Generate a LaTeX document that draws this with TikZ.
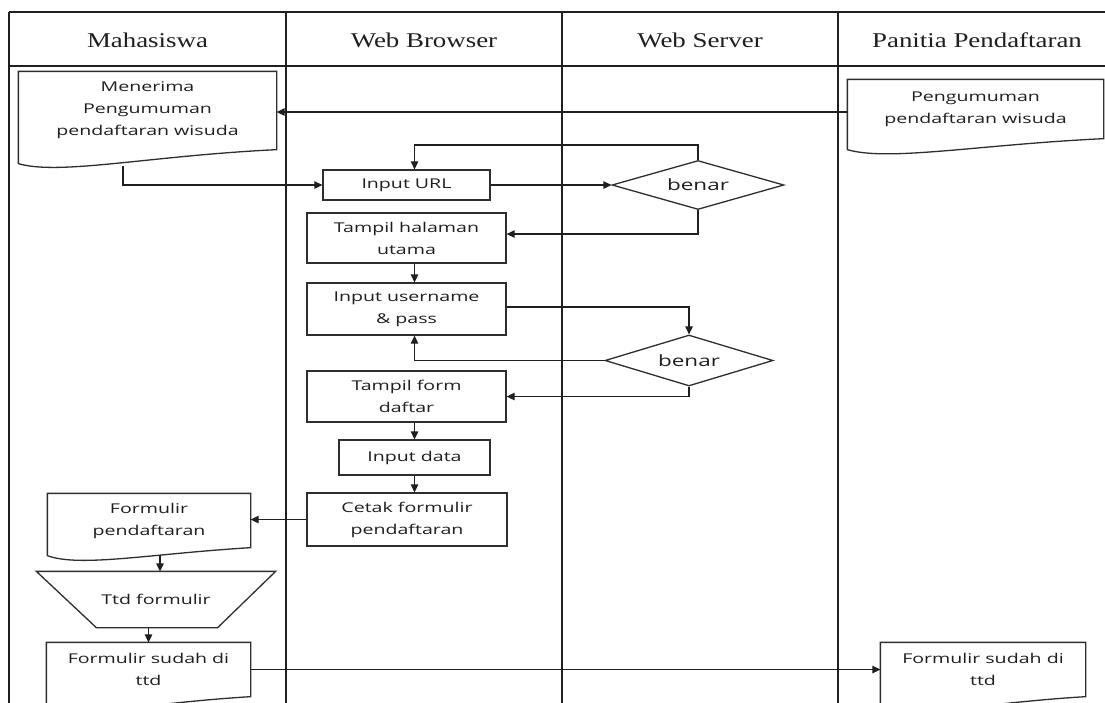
\documentclass[tikz,border=0pt]{standalone}
\usepackage{fontspec}
\usetikzlibrary{arrows.meta,shapes.geometric,calc}
\newfontfamily\hdrfont[FakeStretch=1.28]{Liberation Serif}
\newfontfamily\bodyfont[FakeStretch=1.45]{Open Sans}
\newcommand{\docshape}[3]{%
  \draw[outline] (#1.north west) -- (#1.north east) -- ([yshift=-#2pt]#1.south east)
   .. controls ($([yshift=-#2pt]#1.south east)!0.49!([yshift=-#2pt]#1.south west)+(0,6)$)
   and ($([yshift=-#3pt]#1.south west)!0.16!([yshift=-#3pt]#1.south east)+(0,12)$)
   .. ([yshift=-#3pt]#1.south west) -- cycle;}
\begin{document}
\begin{tikzpicture}[x=1pt,y=-1pt,
  lane/.style={line width=1.5pt,draw=black!88},
  hdr/.style={font=\hdrfont\fontsize{21}{24}\selectfont,text=black!88,inner sep=0pt},
  box/.style={draw=black!82,line width=1.3pt,rectangle,inner sep=0pt,align=center,
    font=\bodyfont\fontsize{13.5}{22}\selectfont,text=black!88},
  docbox/.style={box,draw=none},
  dec/.style={draw=black!82,line width=1.3pt,diamond,inner sep=0pt,aspect=3.5,
    font=\bodyfont\fontsize{15.5}{18}\selectfont,text=black!88},
  arr/.style={line width=1.3pt,draw=black!88,-{Triangle[length=8pt,width=7.5pt]}},
  outline/.style={draw=black!82,line width=1.3pt}
]
\useasboundingbox (0,0) rectangle (1105,702);
\clip (0,0) rectangle (1105,702);
\fill[white] (0,0) rectangle (1105,702);

% swimlane frame
\draw[lane] (9,12) -- (1125,12);
\draw[lane] (9,66) -- (1125,66);
\draw[lane] (9,12) -- (9,712);
\draw[lane] (286,12) -- (286,712);
\draw[lane] (562,12) -- (562,712);
\draw[lane] (838,12) -- (838,712);

\node[hdr] (h1) at (147.5,40) {Mahasiswa};
\node[hdr] (h2) at (424,40) {Web Browser};
\node[hdr] (h3) at (700,40) {Web Server};
\node[hdr] (h4) at (977,40) {Panitia Pendaftaran};

% documents
\node[docbox,minimum width=257,minimum height=77] (m1) at (147.5,110.5) {Menerima\\Pengumuman\\pendaftaran wisuda};
\docshape{m1}{0}{14}
\node[docbox,minimum width=255,minimum height=58] (p1) at (975.5,109) {Pengumuman\\pendaftaran wisuda};
\docshape{p1}{0}{11}
\node[docbox,minimum width=202,minimum height=53] (fp) at (149,520.5) {Formulir\\pendaftaran};
\docshape{fp}{0}{8}
\node[docbox,minimum width=203,minimum height=53] (fs1) at (148.5,669.5) {Formulir sudah di\\ttd};
\docshape{fs1}{0}{10}
\node[docbox,minimum width=204,minimum height=53] (fs2) at (983,669.5) {Formulir sudah di\\ttd};
\docshape{fs2}{0}{10}

% manual operation
\node[docbox,minimum width=238,minimum height=55] (trap) at (156,599.5) {Ttd formulir};
\draw[outline] (trap.north west) -- (trap.north east) -- ([xshift=-58pt]trap.south east)
  -- ([xshift=60pt]trap.south west) -- cycle;

% process boxes
\node[box,minimum width=167,minimum height=30] (url) at (406.5,185) {Input URL};
\node[box,minimum width=199,minimum height=50] (tampil1) at (406.5,238) {Tampil halaman\\utama};
\node[box,minimum width=199,minimum height=52] (user) at (406.5,309) {Input username\\\& pass};
\node[box,minimum width=199,minimum height=51] (form) at (406.5,396.5) {Tampil form\\daftar};
\node[box,minimum width=151,minimum height=35] (data) at (414.5,457.5) {Input data};
\node[box,minimum width=200,minimum height=53] (cetak) at (407,519.5) {Cetak formulir\\pendaftaran};

% decisions
\node[dec,minimum width=172,minimum height=49] (d1) at (698,185) {benar};
\node[dec,minimum width=168,minimum height=51] (d2) at (689,360.5) {benar};

% connectors
\coordinate (m1out) at (123,166);
\coordinate (fpout) at (160,555);
\draw[arr] ([yshift=-3pt]p1.west) -- ([yshift=-3pt]p1.west -| m1.east);
\draw[arr] (m1out) |- (url.west);
\draw[arr] (url.east) -- (d1.west);
\draw[arr] (d1.north) -- ++(0,-15) -| (url.north -| data.center);
\draw[arr] (d1.south) |- ([yshift=4pt]tampil1.east);
\draw[arr] (tampil1.south -| data.center) -- (user.north -| data.center);
\draw[arr] ([yshift=2pt]user.east) -| (d2.north);
\draw[arr] (d2.west) -| (user.south -| data.center);
\draw[arr] (d2.south) |- (form.east);
\draw[arr] (form.south -| data.center) -- (data.north);
\draw[arr] (data.south) -- (cetak.north -| data.south);
\draw[arr] (cetak.west) -- (cetak.west -| fp.east);
\draw[arr] (fpout) -- (fpout |- trap.north);
\draw[arr] (trap.south -| fs1.north) -- (fs1.north);
\draw[arr] (fs1.east) -- (fs1.east -| fs2.west);
\end{tikzpicture}
\end{document}
